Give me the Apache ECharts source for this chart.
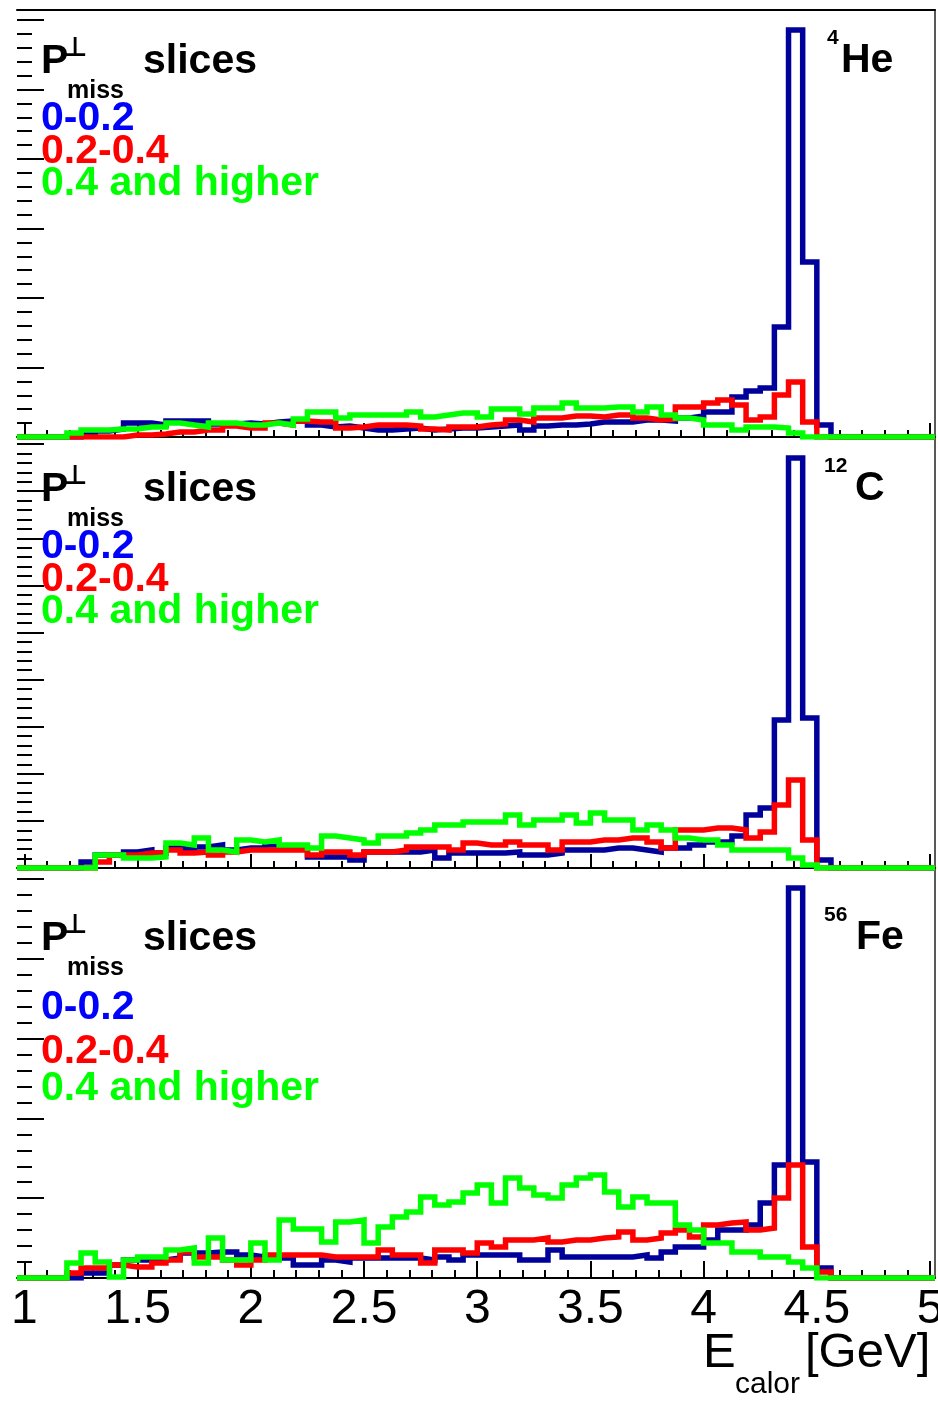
<!DOCTYPE html>
<html><head><meta charset="utf-8">
<script src="https://cdn.jsdelivr.net/npm/echarts@6/dist/echarts.min.js"></script>
<style>html,body{margin:0;padding:0;background:#fff}#c{width:938px;height:1402px}</style>
</head><body><div id="c"></div>
<script>
// ---- data ----
const BIN_START = 1.0;
const BIN_WIDTH = 0.0625;
const X_MIN = 0.967, X_MAX = 5.022;
const X_MAJOR_TICKS = [1, 1.5, 2, 2.5, 3, 3.5, 4, 4.5, 5];
const X_MINOR_TICKS = [1.1,1.2,1.3,1.4,1.6,1.7,1.8,1.9,2.1,2.2,2.3,2.4,2.6,2.7,2.8,2.9,3.1,3.2,3.3,3.4,3.6,3.7,3.8,3.9,4.1,4.2,4.3,4.4,4.6,4.7,4.8,4.9];
const SLICE_NAMES = ['0-0.2', '0.2-0.4', '0.4 and higher'];
const NUCLEI = [['4', 'He'], ['12', 'C'], ['56', 'Fe']];

// counts per bin (arbitrary units), 64 bins of 0.0625 GeV from 1.0 GeV
const he_low  = [0,0,0,0,3,6,8,14,14,12, 16,16,16,13,13,14,13,15,16,16, 12,10,11,9,7,7,8,9,7,8, 9,9,10,11,12,7,11,12,12,13, 15,15,15,17,17,16,19,21,25,25, 40,46,49,110,407,175,12,0,0,0, 0,0,0,0];
const he_mid  = [0,0,0,0,0,0,0,2,2,3, 5,5,7,7,11,9,9,14,12,16, 15,15,9,10,12,12,12,11,8,7, 10,10,12,13,17,15,19,19,21,21, 20,22,22,19,17,18,30,30,34,37, 32,17,20,42,55,15,0,0,0,0, 0,0,0,0];
const he_high = [0,0,0,4,7,7,8,8,10,10, 14,12,10,14,14,12,12,14,12,18, 25,25,19,22,22,22,22,25,20,22, 24,24,20,28,28,23,29,29,34,29, 29,30,30,25,30,22,19,17,12,12, 7,10,10,9,4,0,0,0,0,0, 0,0,0,0];

const c_low  = [0,0,0,0,6,13,13,16,18,15, 20,18,21,23,18,20,20,23,20,20, 11,11,11,8,16,16,16,16,18,10, 15,15,15,15,16,13,13,15,18,18, 18,20,20,18,16,20,20,23,26,26, 32,53,60,148,410,150,8,0,0,0, 0,0,0,0];
const c_mid  = [0,0,0,0,0,6,13,13,15,15, 18,15,16,13,16,18,18,18,18,18, 13,16,16,13,16,16,18,21,21,21, 18,25,23,23,26,23,23,18,26,26, 28,28,30,30,26,20,38,38,40,40, 38,30,36,63,88,28,0,0,0,0, 0,0,0,0];
const c_high = [0,0,0,0,0,13,13,10,10,11, 25,23,30,18,16,28,26,28,23,23, 20,32,30,28,25,32,32,35,38,43, 43,46,46,46,53,43,48,48,53,45, 55,48,48,38,43,38,30,28,28,23, 18,18,18,18,10,3,0,0,0,0, 0,0,0,0];

const fe_low  = [0,0,0,0,5,5,13,18,18,18, 20,25,25,26,26,23,21,20,20,13, 13,18,16,20,20,20,20,20,18,21, 18,23,23,23,23,18,18,28,21,21, 21,21,21,23,20,26,31,31,38,48, 48,53,75,113,390,116,10,0,0,0, 0,0,0,0];
const fe_mid  = [0,0,0,5,10,10,13,11,11,15, 18,26,21,21,18,13,18,23,23,23, 23,21,21,21,21,28,23,23,15,28, 28,25,35,31,38,38,40,36,38,38, 40,41,46,38,40,45,48,41,53,55, 56,48,50,80,113,31,6,0,0,0, 0,0,0,0];
const fe_high = [0,0,0,15,25,16,1,18,21,21, 28,30,15,40,18,18,35,18,58,49, 49,36,56,58,35,51,61,66,81,73, 76,85,93,75,100,90,83,80,93,100, 103,86,71,81,75,75,53,48,35,35, 26,26,21,21,16,10,0,0,0,0, 0,0,0,0];

const PANEL_DATA = [[he_low, he_mid, he_high], [c_low, c_mid, c_high], [fe_low, fe_mid, fe_high]];
const Y_MAX = [427, 430, 410];
const Y_INTERVAL = [69.5, 47.1, 79.8];

// ---- styling / layout ----
const LINE_COLORS = ['#00009a', '#ff0000', '#00ff00'];
const TEXT_COLORS = ['#0000ff', '#ff0000', '#00ff00'];
const GRIDS = [{top: 10, height: 427}, {top: 438, height: 430}, {top: 868, height: 410}];
const FONT = '"Liberation Sans", Arial, Helvetica, sans-serif';

function histPoints(vals) {
  const pts = [[X_MIN, 0], [BIN_START, 0]];
  vals.forEach((v, i) => {
    const lo = BIN_START + i * BIN_WIDTH;
    pts.push([lo, v], [lo + BIN_WIDTH, v]);
  });
  pts.push([BIN_START + vals.length * BIN_WIDTH, 0], [X_MAX, 0]);
  return pts;
}

const grid = [], xAxis = [], yAxis = [], series = [];
GRIDS.forEach((g, p) => {
  grid.push({left: 17, right: 3, top: g.top, height: g.height, containLabel: false, outerBoundsMode: 'none'});
  const isLast = p === GRIDS.length - 1;
  const majorLen = isLast ? 17 : 14, minorLen = isLast ? 8 : 7;
  const mainX = xAxis.length;
  xAxis.push({
    type: 'value', gridIndex: p, min: X_MIN, max: X_MAX, position: 'bottom',
    axisLine: {show: true, onZero: false, lineStyle: {color: '#000', width: 2}},
    axisTick: {show: true, inside: true, length: majorLen, customValues: X_MAJOR_TICKS, lineStyle: {color: '#000', width: 2}},
    axisLabel: {show: isLast, customValues: X_MAJOR_TICKS, margin: 8, color: '#000', fontSize: 48, fontFamily: FONT},
    splitLine: {show: false}
  });
  xAxis.push({
    type: 'value', gridIndex: p, min: X_MIN, max: X_MAX, position: 'bottom',
    axisLine: {show: false},
    axisTick: {show: true, inside: true, length: minorLen, customValues: X_MINOR_TICKS, lineStyle: {color: '#000', width: 2}},
    axisLabel: {show: false}, splitLine: {show: false}
  });
  if (p === 0) {
    xAxis.push({
      type: 'value', gridIndex: p, min: X_MIN, max: X_MAX, position: 'top',
      axisLine: {show: true, onZero: false, lineStyle: {color: '#000', width: 2}},
      axisTick: {show: false}, axisLabel: {show: false}, splitLine: {show: false}
    });
  }
  const mainY = yAxis.length;
  yAxis.push({
    type: 'value', gridIndex: p, min: 0, max: Y_MAX[p], interval: Y_INTERVAL[p], position: 'left',
    axisLine: {show: false},
    axisTick: {show: true, inside: true, length: 27, lineStyle: {color: '#000', width: 2}},
    minorTick: {show: true, splitNumber: 5, length: 15, lineStyle: {color: '#000', width: 2}},
    axisLabel: {show: false}, splitLine: {show: false}, minorSplitLine: {show: false}
  });
  yAxis.push({
    type: 'value', gridIndex: p, min: 0, max: Y_MAX[p], position: 'right',
    axisLine: {show: true, onZero: false, lineStyle: {color: '#222', width: 1.5}},
    axisTick: {show: false}, axisLabel: {show: false}, splitLine: {show: false}
  });
  PANEL_DATA[p].forEach((vals, s) => {
    series.push({
      type: 'line', name: SLICE_NAMES[s], xAxisIndex: mainX, yAxisIndex: mainY,
      data: histPoints(vals), showSymbol: false, symbol: 'none',
      lineStyle: {color: LINE_COLORS[s], width: 5.5, join: 'miter'},
      z: 2 + s, silent: true
    });
  });
});

// text annotations (baseline-based placement)
function txt(str, x, baseline, size, opts) {
  opts = opts || {};
  return {
    type: 'text', x: x, y: baseline - 0.3465 * size, silent: true, z: 100,
    style: {
      text: str, fill: opts.fill || '#000',
      font: (opts.weight || 'bold') + ' ' + size + 'px ' + (opts.family || FONT),
      textAlign: 'left', textVerticalAlign: 'middle', align: 'left', verticalAlign: 'middle'
    }
  };
}
const PANEL_TEXT = [
  {dy: 0,   legend: [133, 166, 198]},
  {dy: 428, legend: [561, 594, 626]},
  {dy: 877, legend: [1022, 1066, 1103]}
];
const NUC_X = [[827, 841], [824, 855], [824, 856]];
const graphic = [];
PANEL_TEXT.forEach((t, p) => {
  const b = 76 + t.dy;
  graphic.push(txt('P', 41, b, 41));
  graphic.push(txt('\u22A5', 63, b - 18, 27, {family: '"DejaVu Sans", sans-serif'}));
  graphic.push(txt('miss', 67, b + 24, 25));
  graphic.push(txt('slices', 143, b, 41));
  SLICE_NAMES.forEach((n, s) => graphic.push(txt(n, 41, t.legend[s], 41, {fill: TEXT_COLORS[s]})));
  graphic.push(txt(NUCLEI[p][0], NUC_X[p][0], b - 31, 21));
  graphic.push(txt(NUCLEI[p][1], NUC_X[p][1], b - 1, 41));
});
graphic.push(txt('E', 703, 1370, 49, {weight: 'normal'}));
graphic.push(txt('calor', 735, 1395, 30, {weight: 'normal'}));
graphic.push(txt('[GeV]', 805, 1370, 49, {weight: 'normal'}));

const chart = echarts.init(document.getElementById('c'), null, {renderer: 'canvas'});
chart.setOption({
  animation: false, backgroundColor: '#fff',
  grid: grid, xAxis: xAxis, yAxis: yAxis, series: series, graphic: graphic
});
</script></body></html>
